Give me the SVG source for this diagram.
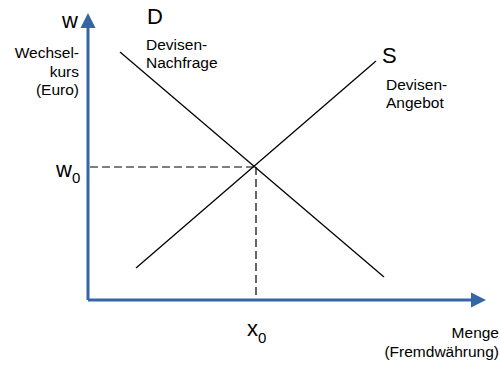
<svg xmlns="http://www.w3.org/2000/svg" width="500" height="365" viewBox="0 0 500 365">
<style>
.t{font-family:"Liberation Sans",Arial,sans-serif;fill:#000}
.big{font-size:22px}
.sm{font-size:15.5px}
.sub{font-size:15px}
.axis{stroke:#3465a4;stroke-width:3;fill:none}
.curve{stroke:#000;stroke-width:1.3;fill:none}
.dash{stroke:#000;stroke-width:1.2;fill:none;stroke-dasharray:8 4}
</style>
<rect width="500" height="365" fill="#fff"/>
<g id="axes">
<path class="axis" d="M88,300 V26 M88,300 H473"/>
<polygon points="88,13 80.5,28 95.5,28" fill="#3465a4"/>
<polygon points="486,300 471,292.5 471,307.5" fill="#3465a4"/>
</g>
<g id="connectors">
<line class="dash" x1="90" y1="167" x2="256" y2="167"/>
<line class="dash" x1="256" y1="167" x2="256" y2="299"/>
</g>
<g id="demand">
<line class="curve" x1="120" y1="52" x2="384" y2="277"/>
<text class="t big" x="147" y="24">D</text>
<text class="t sm" x="146" y="50">Devisen-</text>
<text class="t sm" x="146" y="68">Nachfrage</text>
</g>
<g id="supply">
<line class="curve" x1="136" y1="268" x2="376" y2="61"/>
<text class="t big" x="382" y="63">S</text>
<text class="t sm" x="386" y="90">Devisen-</text>
<text class="t sm" x="386" y="108">Angebot</text>
</g>
<g id="ylabel">
<text class="t big" x="78" y="28" text-anchor="end">w</text>
<text class="t sm" x="79" y="58" text-anchor="end">Wechsel-</text>
<text class="t sm" x="79" y="77" text-anchor="end">kurs</text>
<text class="t sm" x="79" y="95" text-anchor="end">(Euro)</text>
</g>
<g id="w0">
<text class="t big" x="56" y="177">w<tspan class="sub" dy="6">0</tspan></text>
</g>
<g id="x0">
<text class="t big" x="247" y="336">x<tspan class="sub" dy="7">0</tspan></text>
</g>
<g id="xlabel">
<text class="t sm" x="499" y="338" text-anchor="end">Menge</text>
<text class="t sm" x="499" y="357" text-anchor="end">(Fremdwährung)</text>
</g>
</svg>
